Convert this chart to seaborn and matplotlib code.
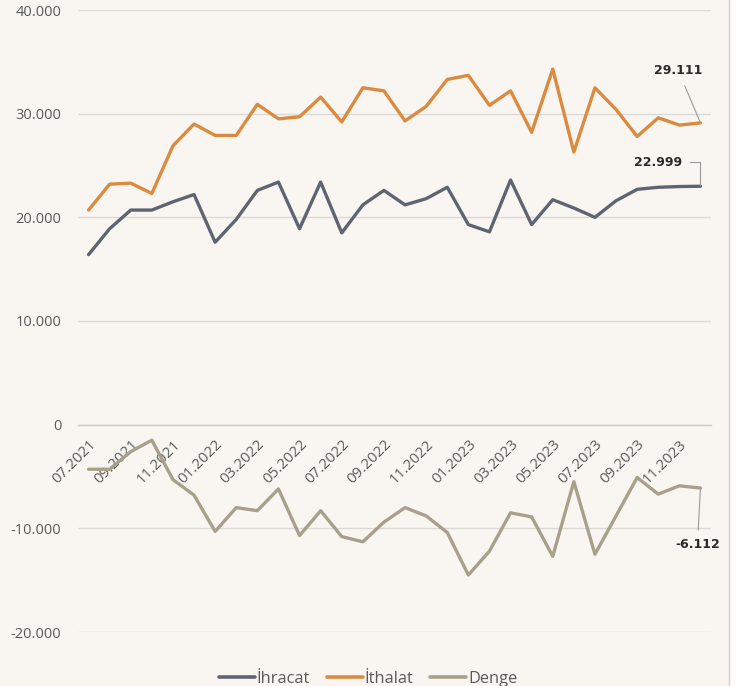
import numpy as np
import pandas as pd
import matplotlib
matplotlib.use("Agg")
import matplotlib.pyplot as plt
from matplotlib.lines import Line2D
from matplotlib.patches import Rectangle
import seaborn as sns

# ---- data (values in million USD) ----
months = ["07.2021", "08.2021", "09.2021", "10.2021", "11.2021", "12.2021",
          "01.2022", "02.2022", "03.2022", "04.2022", "05.2022", "06.2022",
          "07.2022", "08.2022", "09.2022", "10.2022", "11.2022", "12.2022",
          "01.2023", "02.2023", "03.2023", "04.2023", "05.2023", "06.2023",
          "07.2023", "08.2023", "09.2023", "10.2023", "11.2023", "12.2023"]
ihracat = [16400, 18900, 20700, 20700, 21500, 22200, 17600, 19800, 22600, 23400,
           18900, 23400, 18500, 21200, 22600, 21200, 21800, 22900, 19300, 18600,
           23600, 19300, 21700, 20900, 20000, 21600, 22700, 22900, 22970, 22999]
ithalat = [20700, 23200, 23300, 22300, 26900, 29000, 27900, 27900, 30900, 29500,
           29700, 31600, 29200, 32500, 32200, 29300, 30700, 33300, 33700, 30800,
           32200, 28200, 34300, 26300, 32500, 30400, 27800, 29600, 28900, 29111]
denge = [-4300, -4300, -2600, -1500, -5300, -6800, -10300, -8000, -8300, -6200,
         -10700, -8300, -10800, -11300, -9400, -8000, -8800, -10400, -14500, -12200,
         -8500, -8900, -12700, -5500, -12500, -8800, -5100, -6700, -5900, -6112]
series_names = ["İhracat", "İthalat", "Denge"]
tick_labels = months[::2]
y_ticks = [-20000, -10000, 0, 10000, 20000, 30000, 40000]

df = pd.DataFrame({
    "idx": list(range(len(months))) * 3,
    "value": ihracat + ithalat + denge,
    "series": [series_names[0]] * len(months) + [series_names[1]] * len(months)
              + [series_names[2]] * len(months),
})

BG = "#f9f6f2"
palette = {"İhracat": "#5e6572", "İthalat": "#dc8a3f", "Denge": "#a9a08c"}
TXT = "#5a5a5a"

sns.set_style("white")
plt.rcParams["font.family"] = ["Open Sans", "DejaVu Sans"]

fig = plt.figure(figsize=(7.36, 6.86), dpi=100, facecolor=BG)
ax = fig.add_axes([78 / 736, 1 - 632 / 686, (711 - 78) / 736, (632 - 10) / 686])
ax.set_facecolor(BG)

sns.lineplot(data=df, x="idx", y="value", hue="series", palette=palette,
             hue_order=series_names, linewidth=2.4, ax=ax, zorder=3)

ax.set_xlim(-0.5, len(months) - 0.5)
ax.set_ylim(-20000, 40000)
ax.set_xlabel("")
ax.set_ylabel("")

# gridlines
ax.set_yticks(y_ticks)
ax.yaxis.grid(True, color="#dcdad6", linewidth=1)
ax.set_axisbelow(True)
ax.set_yticklabels([("{:,}".format(v)).replace(",", ".") for v in y_ticks],
                   color=TXT, fontsize=10.5)
ax.tick_params(axis="y", length=0, pad=12)

# x axis at zero with boundary ticks every 2 months
for s in ["left", "right", "top"]:
    ax.spines[s].set_visible(False)
ax.spines["bottom"].set_position(("data", 0))
ax.spines["bottom"].set_color("#cfccc6")
ax.spines["bottom"].set_linewidth(1)
ax.set_xticks(np.arange(-0.5, len(months), 2))
ax.set_xticklabels([])
ax.tick_params(axis="x", which="major", length=5, color="#cfccc6", direction="out")
ax.set_xticks(np.arange(0, len(months), 2), minor=True)
ax.set_xticklabels(tick_labels, minor=True, rotation=45, ha="right", va="top",
                   rotation_mode="anchor", color=TXT, fontsize=10.8)
ax.tick_params(axis="x", which="minor", length=0, pad=9)

# legend
handles, labels = ax.get_legend_handles_labels()
ax.legend_.remove()
for h in handles:
    h.set_linewidth(2.6)
fig.legend(handles, labels, loc="center", bbox_to_anchor=(0.5, 1 - 679 / 686),
           ncol=3, frameon=False, fontsize=11.8, labelcolor=TXT,
           handlelength=2.2, handletextpad=0.12, columnspacing=1.0)

# value callouts
lab_font = dict(family="DejaVu Sans", fontweight="bold", fontsize=9, color="#2a2a2a")
last = len(months) - 1
ax.annotate("{:,}".format(ithalat[-1]).replace(",", "."), xy=(last, ithalat[-1]),
            xytext=(-22, 52), textcoords="offset pixels", ha="center", va="center",
            arrowprops=dict(arrowstyle="-", color="#9a9a9a", lw=0.8, shrinkA=4, shrinkB=1),
            **lab_font)
ax.annotate("{:,}".format(ihracat[-1]).replace(",", "."), xy=(last, ihracat[-1]),
            xytext=(-42, 24), textcoords="offset pixels", ha="center", va="center",
            arrowprops=dict(arrowstyle="-", color="#9a9a9a", lw=0.8, shrinkA=3, shrinkB=1,
                            connectionstyle="angle,angleA=0,angleB=90,rad=0"),
            **lab_font)
ax.annotate("{:,}".format(denge[-1]).replace(",", "."), xy=(last, denge[-1]),
            xytext=(-3, -56), textcoords="offset pixels", ha="center", va="center",
            arrowprops=dict(arrowstyle="-", color="#9a9a9a", lw=0.8, shrinkA=3, shrinkB=1),
            **lab_font)

# right frame edge
fig.add_artist(Rectangle((729 / 736, 0), 7 / 736, 1, transform=fig.transFigure,
                         facecolor="#fdfcfb", edgecolor="none"))
fig.add_artist(Line2D([729 / 736, 729 / 736], [0, 1], transform=fig.transFigure,
                      color="#cfcfcf", linewidth=1))

fig.savefig("out.png", dpi=100, facecolor=BG)
